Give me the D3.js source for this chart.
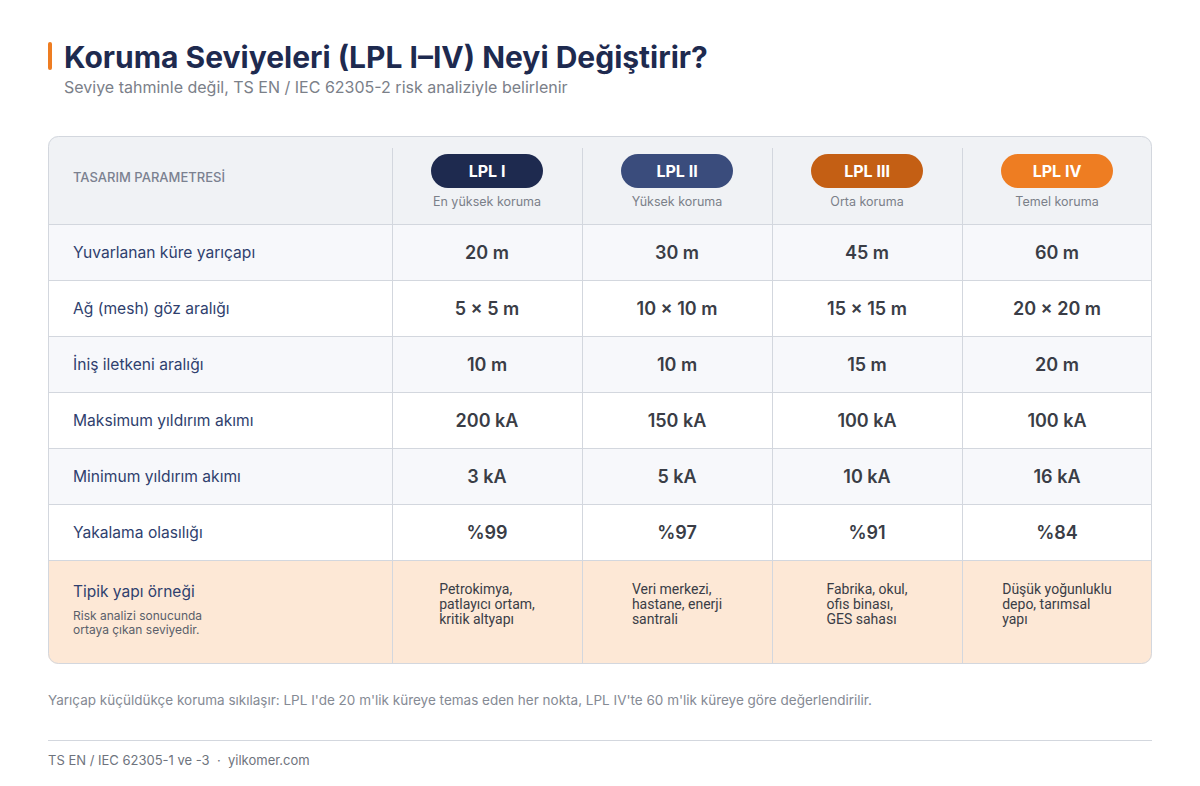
<!DOCTYPE html>
<html><head><meta charset="utf-8">
<script src="https://cdn.jsdelivr.net/npm/d3@7"></script>
<style>body{margin:0;background:#fff}svg{display:block}text{font-family:Inter,"Noto Sans",sans-serif}</style>
</head><body><svg id="c" width="1200" height="786"></svg>
<script>
const levels = ["LPL I","LPL II","LPL III","LPL IV"];
const levelSubs = ["En yüksek koruma","Yüksek koruma","Orta koruma","Temel koruma"];
const levelColors = ["#1e2a4f","#3a4c7c","#c45f14","#ee7d22"];
const params = ["Yuvarlanan küre yarıçapı","Ağ (mesh) göz aralığı","İniş iletkeni aralığı","Maksimum yıldırım akımı","Minimum yıldırım akımı","Yakalama olasılığı"];
const values = [
  ["20 m","30 m","45 m","60 m"],
  ["5 × 5 m","10 × 10 m","15 × 15 m","20 × 20 m"],
  ["10 m","10 m","15 m","20 m"],
  ["200 kA","150 kA","100 kA","100 kA"],
  ["3 kA","5 kA","10 kA","16 kA"],
  ["%99","%97","%91","%84"]
];
const examples = [
  ["Petrokimya,","patlayıcı ortam,","kritik altyapı"],
  ["Veri merkezi,","hastane, enerji","santrali"],
  ["Fabrika, okul,","ofis binası,","GES sahası"],
  ["Düşük yoğunluklu","depo, tarımsal","yapı"]
];
const title = "Koruma Seviyeleri (LPL I–IV) Neyi Değiştirir?";
const subtitle = "Seviye tahminle değil, TS EN / IEC 62305-2 risk analiziyle belirlenir";
const headerLabel = "TASARIM PARAMETRESİ";
const exampleLabel = "Tipik yapı örneği";
const exampleNote = ["Risk analizi sonucunda","ortaya çıkan seviyedir."];
const footnote = "Yarıçap küçüldükçe koruma sıkılaşır: LPL I'de 20 m'lik küreye temas eden her nokta, LPL IV'te 60 m'lik küreye göre değerlendirilir.";
const footer = "TS EN / IEC 62305-1 ve -3  ·  yilkomer.com";

const svg = d3.select("#c");
const L = 48, R = 1152, T = 136, B = 664, labelW = 344, headH = 88, rowH = 56;
const border = "#d3d7de";

// title
svg.append("rect").attr("x",48).attr("y",42).attr("width",4).attr("height",28).attr("rx",2).attr("fill","#ee7d22");
svg.append("text").attr("x",64).attr("y",68).attr("font-size",30).attr("font-weight",700).attr("fill","#1e2a4f").text(title);
svg.append("text").attr("x",64).attr("y",93).attr("font-size",16).attr("fill","#7b8089").text(subtitle);

const x = d3.scaleBand().domain(levels).range([L+labelW, R]);
const y = d3.scaleBand().domain(params).range([T+headH, T+headH+rowH*params.length]);
const lastTop = T+headH+rowH*params.length;

const clip = svg.append("defs").append("clipPath").attr("id","tbl");
clip.append("rect").attr("x",L).attr("y",T).attr("width",R-L).attr("height",B-T).attr("rx",10);
const g = svg.append("g").attr("clip-path","url(#tbl)");

g.append("rect").attr("x",L).attr("y",T).attr("width",R-L).attr("height",headH).attr("fill","#f0f2f5");
g.selectAll("rect.row").data(params).join("rect").attr("class","row")
  .attr("x",L).attr("y",d=>y(d)).attr("width",R-L).attr("height",rowH)
  .attr("fill",(d,i)=>i%2===0?"#f7f8fb":"#ffffff");
g.append("rect").attr("x",L).attr("y",lastTop).attr("width",R-L).attr("height",B-lastTop).attr("fill","#fde8d6");

g.selectAll("line.h").data([T+headH, ...params.map(p=>y(p)+rowH)]).join("line")
  .attr("x1",L).attr("x2",R).attr("y1",d=>d+0.5).attr("y2",d=>d+0.5).attr("stroke",border);
g.selectAll("line.v").data(levels).join("line")
  .attr("x1",d=>x(d)+0.5).attr("x2",d=>x(d)+0.5).attr("y1",T+12).attr("y2",B).attr("stroke",border);

svg.append("rect").attr("x",L+0.5).attr("y",T+0.5).attr("width",R-L-1).attr("height",B-T-1).attr("rx",10)
  .attr("fill","none").attr("stroke",border);

// header
svg.append("text").attr("x",73).attr("y",182).attr("font-size",13).attr("font-weight",500).attr("fill","#7b8190").text(headerLabel);
const hc = svg.selectAll("g.hc").data(levels).join("g").attr("transform",d=>`translate(${x(d)+x.bandwidth()/2},0)`);
hc.append("rect").attr("x",-56).attr("y",154).attr("width",112).attr("height",34).attr("rx",17).attr("fill",(d,i)=>levelColors[i]);
hc.append("text").attr("y",177).attr("text-anchor","middle").attr("font-size",16).attr("font-weight",700).attr("fill","#fff").text(d=>d);
hc.append("text").attr("y",206).attr("text-anchor","middle").attr("font-size",12.5).attr("fill","#7b8089").text((d,i)=>levelSubs[i]);

// rows
svg.selectAll("text.pl").data(params).join("text").attr("class","pl")
  .attr("x",73).attr("y",d=>y(d)+rowH/2+5.5).attr("font-size",15.6).attr("fill","#2f3f6e").text(d=>d);
params.forEach((p,ri)=>{
  svg.selectAll("text.v"+ri).data(levels).join("text").attr("class","v"+ri)
    .attr("x",d=>x(d)+x.bandwidth()/2).attr("y",y(p)+rowH/2+6.5).attr("text-anchor","middle")
    .attr("font-size",18).attr("font-weight",600).attr("fill","#3a3d46").text((d,i)=>values[ri][i]);
});

// last row
svg.append("text").attr("x",73).attr("y",597).attr("font-size",15.5).attr("fill","#2f3f6e").text(exampleLabel);
svg.selectAll("text.note").data(exampleNote).join("text").attr("class","note")
  .attr("x",73).attr("y",(d,i)=>620+i*14).attr("font-size",12).attr("fill","#5a5f6a").text(d=>d);
levels.forEach((lv,ci)=>{
  const tg = svg.append("g");
  const t = tg.selectAll("text").data(examples[ci]).join("text")
    .attr("y",(d,i)=>594+i*15).attr("font-size",14).attr("fill","#3a3d46")
    .style("font-family","Roboto,sans-serif").text(d=>d);
  let mw = 0; t.each(function(){mw=Math.max(mw,this.getComputedTextLength());});
  t.attr("x", x(lv)+x.bandwidth()/2 - mw/2);
});

// footnote & footer
svg.append("text").attr("x",48).attr("y",705).attr("font-size",13.5).attr("fill","#858a94").text(footnote);
svg.append("line").attr("x1",48).attr("x2",1152).attr("y1",740.5).attr("y2",740.5).attr("stroke","#d3d7de");
svg.append("text").attr("x",48).attr("y",765).attr("font-size",13).attr("fill","#6e737d").attr("xml:space","preserve").text(footer);
</script></body></html>
